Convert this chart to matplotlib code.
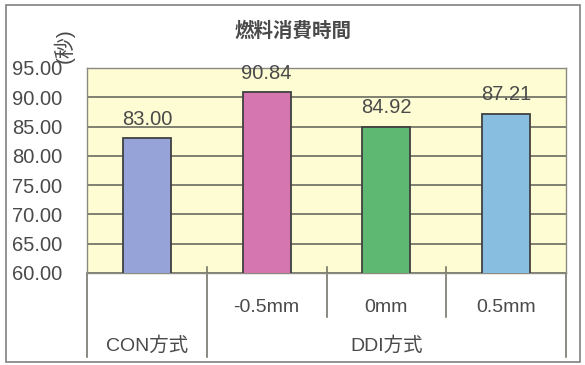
import matplotlib
matplotlib.use('Agg')
import matplotlib.pyplot as plt
from matplotlib.patches import Rectangle

plt.rcParams['font.family'] = ['Liberation Sans', 'Noto Sans CJK JP']

# fuel consumption time per method / offset
groups = ['CON方式', 'DDI方式']
offsets = ['', '-0.5mm', '0mm', '0.5mm']
times = [83.00, 90.84, 84.92, 87.21]
bar_colors = ['#95a3d8', '#d676b0', '#5fb872', '#88bfe0']
y_ticks = [60, 65, 70, 75, 80, 85, 90, 95]

text_color = '#4a4a4a'
line_color = '#6b6b60'

W, H = 585, 365
fig = plt.figure(figsize=(W / 100, H / 100), dpi=100)

# plot area in pixels: left 87, right 566, top 68, bottom 273
ax = fig.add_axes([87 / W, 1 - 273 / H, (566 - 87) / W, (273 - 68) / H])
ax.set_facecolor('#fdfcd2')

x = list(range(len(times)))
ax.bar(x, times, width=0.4, bottom=0, color=bar_colors, edgecolor='#404040',
       linewidth=1.3, zorder=3)
ax.set_xlim(-0.5, len(times) - 0.5)
ax.set_ylim(y_ticks[0], y_ticks[-1])

for xi, t in zip(x, times):
    ax.annotate(f'{t:.2f}', (xi, t), xytext=(0, 7), textcoords='offset points',
                ha='center', va='bottom', fontsize=14.5, color=text_color)

ax.set_yticks(y_ticks)
ax.set_yticklabels([f'{v:.2f}' for v in y_ticks], fontsize=14.5, color=text_color)
ax.tick_params(axis='y', length=0, pad=18)
ax.set_xticks([])
ax.grid(axis='y', color=line_color, linewidth=1.2, zorder=1)
ax.set_axisbelow(True)
for s in ax.spines.values():
    s.set_color('#8a8a80')
    s.set_linewidth(1.0)

# category separators below the axis
trans = ax.get_xaxis_transform()
for xs in [-0.5, 0.5, len(times) - 0.5]:
    top = 0.03 if xs == 0.5 else 0
    ax.plot([xs, xs], [top, -0.41], transform=trans, clip_on=False,
            color=line_color, linewidth=1.1)
for xs in [1.5, 2.5]:
    ax.plot([xs, xs], [0.03, -0.215], transform=trans, clip_on=False,
            color=line_color, linewidth=1.1)

for xi, lab in zip(x, offsets):
    if lab:
        ax.text(xi, -0.17, lab, transform=trans, ha='center', va='center',
                fontsize=14, color=text_color)
ax.text(0, -0.355, groups[0], transform=trans, ha='center', va='center',
        fontsize=14, color=text_color)
ax.text(2, -0.355, groups[1], transform=trans, ha='center', va='center',
        fontsize=14, color=text_color)

fig.text(293 / W, 1 - 31 / H, '燃料消費時間', ha='center', va='center',
         fontsize=14, fontweight='bold', color=text_color)
fig.text(64 / W, 1 - 46 / H, '(秒)', ha='center', va='center', rotation=90,
         fontsize=15, color=text_color)

# outer frame
fig.patches.append(Rectangle((6 / W, 1 - 362 / H), (580 - 6) / W, (362 - 5) / H,
                             transform=fig.transFigure, fill=False,
                             edgecolor='#808080', linewidth=1.2))

fig.savefig('out.png', dpi=100, facecolor='white')
